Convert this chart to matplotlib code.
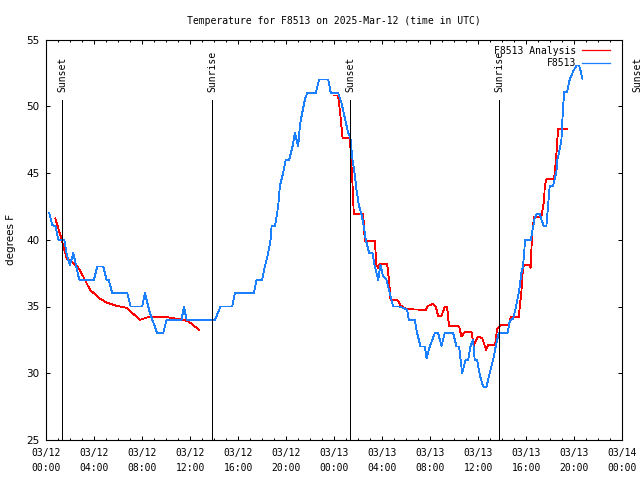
import matplotlib
matplotlib.use("Agg")
import matplotlib.pyplot as plt
from matplotlib.ticker import MultipleLocator

# hours since 2025-03-12 00:00 UTC
obs_hours = [0.25, 0.50, 0.78, 1.00, 1.50, 1.70, 1.97, 2.25, 2.47, 2.75, 3.97, 4.25, 4.75, 5.03,
             5.20, 5.50, 6.75, 7.03, 8.00, 8.22, 8.64, 9.25, 9.75, 10.03, 11.28, 11.47, 11.70,
             14.06, 14.53, 15.50, 15.72, 17.31, 17.53, 18.00, 18.22, 18.50, 18.70, 18.78, 19.06,
             19.25, 19.39, 19.47, 19.75, 19.97, 20.25, 20.53, 20.72, 20.86, 21.00, 21.14, 21.28,
             21.56, 21.75, 22.47, 22.75, 23.50, 23.72, 24.33, 24.61, 25.17, 25.36, 25.53, 25.72,
             25.86, 26.08, 26.28, 26.42, 26.64, 26.92, 27.20, 27.33, 27.53, 27.67, 27.86, 28.08,
             28.36, 28.64, 28.92, 29.47, 30.08, 30.22, 30.72, 30.92, 31.20, 31.56, 31.70, 31.97,
             32.39, 32.67, 32.95, 33.22, 33.92, 34.20, 34.42, 34.67, 34.95, 35.17, 35.36, 35.58,
             35.72, 35.92, 36.14, 36.42, 36.70, 36.97, 37.25, 37.47, 37.72, 38.45, 38.64, 38.92,
             39.11, 39.33, 39.47, 39.61, 39.75, 39.89, 39.95, 40.39, 40.58, 40.72, 40.92, 41.14,
             41.28, 41.47, 41.70, 41.83, 41.97, 42.25, 42.39, 42.53, 42.61, 42.75, 42.95, 43.03,
             43.17, 43.42, 43.64, 43.92, 44.20, 44.42, 44.56, 44.70]
obs_temp = [42.0, 41.1, 41.0, 40.0, 40.0, 38.9, 38.1, 39.0, 38.1, 37.0, 37.0, 38.0, 38.0, 37.0,
            37.0, 36.0, 36.0, 35.0, 35.0, 36.0, 34.5, 33.0, 33.0, 34.0, 34.0, 35.0, 34.0,
            34.0, 35.0, 35.0, 36.0, 36.0, 37.0, 37.0, 38.0, 39.0, 40.0, 41.0, 41.0,
            42.0, 43.0, 44.0, 45.0, 46.0, 46.0, 47.0, 48.0, 47.5, 47.0, 48.5, 49.25,
            50.5, 51.0, 51.0, 52.0, 52.0, 51.0, 51.0, 50.25, 48.0, 47.6, 46.0, 44.9,
            43.75, 42.5, 41.9, 41.25, 40.0, 39.0, 39.0, 38.25, 37.5, 37.0, 38.1, 37.25,
            37.0, 36.0, 35.0, 35.0, 34.75, 34.0, 34.0, 33.0, 32.0, 32.0, 31.1, 32.0,
            33.0, 33.0, 32.05, 33.0, 33.0, 32.0, 32.0, 30.0, 31.0, 31.0, 32.0, 32.5,
            31.0, 31.0, 29.9, 29.0, 29.0, 30.0, 31.0, 32.0, 33.0, 33.0, 33.9, 34.1,
            34.75, 35.75, 36.5, 37.5, 38.0, 39.6, 40.0, 40.0, 40.9, 41.6, 41.95, 41.95,
            41.5, 41.05, 41.05, 42.5, 44.0, 44.05, 44.55, 45.1, 46.0, 46.5, 47.5, 49.0,
            51.05, 51.05, 52.0, 52.6, 53.05, 53.05, 52.6, 52.05]

ana1_hours = [0.75, 1.20, 1.70, 2.25, 2.67, 3.08, 3.64, 4.47, 5.03, 5.86, 6.70, 7.81, 8.64,
              10.03, 11.14, 11.83, 12.74]
ana1_temp = [41.6, 40.25, 38.6, 38.25, 37.9, 37.25, 36.25, 35.6, 35.3, 35.05, 34.9, 34.0, 34.25,
             34.2, 34.05, 33.9, 33.25]

ana2_hours = [23.97, 24.33, 24.53, 24.70, 25.31, 25.50, 25.64, 26.42, 26.56, 27.39, 27.53, 27.67,
              27.81, 28.42, 28.58, 28.70, 29.33, 29.53, 30.03, 31.64, 31.83, 32.25, 32.47, 32.67,
              32.95, 33.22, 33.42, 33.58, 34.20, 34.42, 34.61, 34.89, 35.45, 35.64, 36.00, 36.36,
              36.67, 36.83, 37.42, 37.58, 37.89, 38.56, 38.72, 39.39, 39.47, 39.61, 39.75, 39.89,
              40.25, 40.39, 40.50, 40.67, 41.28, 41.50, 41.56, 41.70, 42.33, 42.45, 42.53, 42.61,
              42.67, 43.42]
ana2_temp = [50.8, 50.8, 49.25, 47.6, 47.6, 44.75, 41.9, 41.9, 39.9, 39.9, 38.1, 37.9,
             38.2, 38.2, 36.9, 35.5, 35.45, 35.1, 34.8, 34.75, 35.05, 35.2, 35.0, 34.3,
             34.3, 34.95, 34.95, 33.5, 33.55, 33.5, 32.75, 33.1, 33.1, 32.1, 32.75, 32.6,
             31.75, 32.1, 32.1, 33.3, 33.6, 33.6, 34.2, 34.2, 34.9, 36.1, 38.0, 38.1,
             38.1, 37.9, 40.5, 41.7, 41.7, 42.9, 44.0, 44.55, 44.55, 45.55, 46.4, 47.5,
             48.3, 48.3]

sun_hours = [1.33, 13.83, 25.33, 37.72, 49.2]
sun_names = ["Sunset", "Sunrise", "Sunset", "Sunrise", "Sunset"]

xtick_hours = [0, 4, 8, 12, 16, 20, 24, 28, 32, 36, 40, 44, 48]
xtick_labels = ["03/12\n00:00", "03/12\n04:00", "03/12\n08:00", "03/12\n12:00", "03/12\n16:00",
                "03/12\n20:00", "03/13\n00:00", "03/13\n04:00", "03/13\n08:00", "03/13\n12:00",
                "03/13\n16:00", "03/13\n20:00", "03/14\n00:00"]
ytick_vals = [25, 30, 35, 40, 45, 50, 55]

MONO = "DejaVu Sans Mono"
SANS = "DejaVu Sans"
RED = "#ff0000"
BLUE = "#1a80ff"
LW = 0.6

fig = plt.figure(figsize=(6.4, 4.8), dpi=100)
ax = fig.add_axes([46.3 / 640, 40 / 480, (622 - 46.3) / 640, (440 - 39.5) / 480])

ax.plot(ana1_hours, ana1_temp, color=RED, lw=LW, antialiased=False, label="F8513 Analysis")
ax.plot(ana2_hours, ana2_temp, color=RED, lw=LW, antialiased=False)
ax.plot(obs_hours, obs_temp, color=BLUE, lw=LW, antialiased=False, label="F8513")

ax.vlines(sun_hours, 25, 50.5, color="black", lw=0.72, antialiased=False)
for h, name in zip(sun_hours, sun_names):
    ax.text(h + 0.05, 51.05, name, rotation=90, ha="center", va="bottom",
            family=MONO, fontsize=7, clip_on=False)

ax.set_xlim(0, 48)
ax.set_ylim(25, 55)
ax.set_xticks(xtick_hours)
ax.set_xticklabels(xtick_labels, family=MONO, fontsize=7)
for lbl in ax.get_xticklabels():
    lbl.set_linespacing(1.6)
ax.xaxis.set_minor_locator(MultipleLocator(1))
ax.set_yticks(ytick_vals)
ax.set_yticklabels([str(v) for v in ytick_vals], family=SANS, fontsize=7.5)

ax.tick_params(which="both", direction="in", top=True, right=True, width=0.72)
ax.tick_params(which="major", length=3.2)
ax.tick_params(which="minor", length=1.6)
ax.tick_params(axis="x", pad=6)
ax.tick_params(axis="y", pad=5)
for s in ax.spines.values():
    s.set_linewidth(0.8)

ax.set_ylabel("degrees F", family=SANS, fontsize=7.5, labelpad=7)
ax.set_title("Temperature for F8513 on 2025-Mar-12 (time in UTC)", family=MONO, fontsize=7, pad=11)

leg = ax.legend(loc="upper right", bbox_to_anchor=(0.979, 0.985), frameon=False, markerfirst=False,
                prop={"family": MONO, "size": 7}, handlelength=2.9, handletextpad=0.6,
                labelspacing=0.3, borderaxespad=0, borderpad=0)
for t in leg.get_texts():
    t.set_ha("right")
for h in leg.legend_handles:
    h.set_linewidth(0.9)

fig.savefig("out.png", dpi=100)
